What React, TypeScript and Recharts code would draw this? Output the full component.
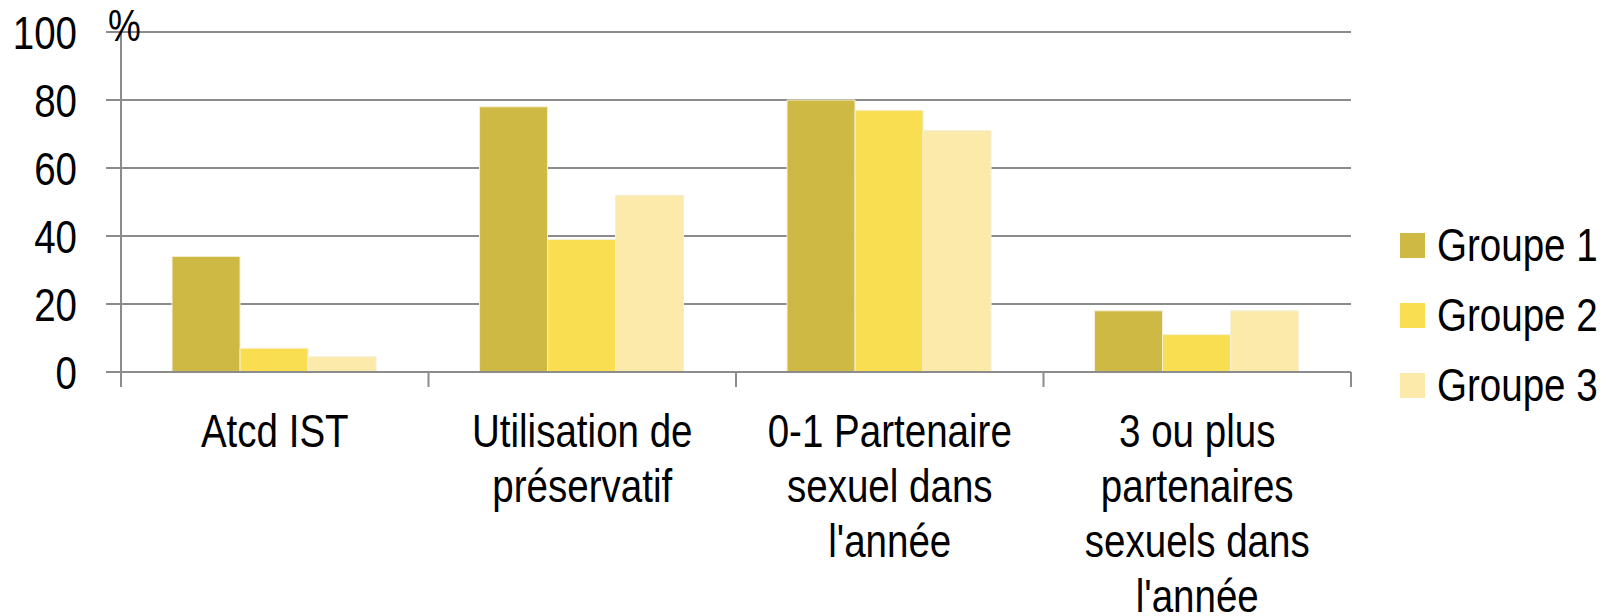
import { BarChart, Bar, XAxis, YAxis, CartesianGrid } from 'recharts';

const categories = [
  'Atcd IST',
  'Utilisation de\npréservatif',
  "0-1 Partenaire\nsexuel dans\nl'année",
  "3 ou plus\npartenaires\nsexuels dans\nl'année",
];
const groupe1 = [34, 78, 80, 18];
const groupe2 = [7, 39, 77, 11];
const groupe3 = [4.5, 52, 71, 18];
const seriesNames = ['Groupe 1', 'Groupe 2', 'Groupe 3'];
const yTicks = [0, 20, 40, 60, 80, 100];

const COLORS = ['#CFB945', '#F9DE52', '#FCEAAB'];
const GRID = '#8C8C8C';
const FONT = "'Liberation Sans', Arial, sans-serif";
const NARROW = 0.82; // the reference uses a condensed face
const W = 1607;
const H = 616;
const Y_AXIS_W = 121;
const RIGHT = 256;
const PLOT_W = W - Y_AXIS_W - RIGHT;

const chartData = categories.map((name, i) => ({
  name,
  [seriesNames[0]]: groupe1[i],
  [seriesNames[1]]: groupe2[i],
  [seriesNames[2]]: groupe3[i],
}));

function CategoryTick(props: any) {
  const { x, y, payload, index } = props;
  const band = PLOT_W / categories.length;
  const lines = String(payload.value).split('\n');
  return (
    <g>
      <line x1={x - band / 2} x2={x - band / 2} y1={y} y2={y + 15} stroke={GRID} strokeWidth={2} />
      {index === categories.length - 1 && (
        <line x1={x + band / 2} x2={x + band / 2} y1={y} y2={y + 15} stroke={GRID} strokeWidth={2} />
      )}
      <g transform={`translate(${x},${y + 75}) scale(${NARROW},1)`}>
        <text x={0} y={0} textAnchor="middle" fill="#000" fontSize={47} fontFamily={FONT}>
          {lines.map((l, i) => (
            <tspan key={i} x={0} dy={i === 0 ? 0 : 55}>
              {l}
            </tspan>
          ))}
        </text>
      </g>
    </g>
  );
}

function ValueTick(props: any) {
  const { x, y, payload } = props;
  return (
    <g transform={`translate(${x},${y}) scale(${NARROW},1)`}>
      <text x={0} y={0} dy="0.355em" textAnchor="end" fill="#000" fontSize={47} fontFamily={FONT}>
        {payload.value}
      </text>
    </g>
  );
}

function PercentLabel(props: any) {
  const vb = props.viewBox || { x: 0, y: 32, width: Y_AXIS_W };
  return (
    <g transform={`translate(${vb.x + vb.width - 13},${vb.y + 9}) scale(${NARROW},1)`}>
      <text x={0} y={0} fontSize={45} fontFamily={FONT} fill="#000">
        %
      </text>
    </g>
  );
}

function LegendBox() {
  return (
    <div style={{ position: 'absolute', left: 1400, top: 210, fontFamily: FONT, fontSize: 47, color: '#000' }}>
      {seriesNames.map((n, i) => (
        <div key={n} style={{ display: 'flex', alignItems: 'center', height: 70 }}>
          <div style={{ width: 25, height: 25, background: COLORS[i], flex: '0 0 25px', marginRight: 12 }} />
          <div
            style={{
              lineHeight: '70px',
              whiteSpace: 'nowrap',
              transform: `scaleX(${NARROW})`,
              transformOrigin: 'left center',
            }}
          >
            {n}
          </div>
        </div>
      ))}
    </div>
  );
}

export default function App() {
  return (
    <div style={{ position: 'absolute', left: 0, top: 0, width: W, height: H, background: '#fff' }}>
      <BarChart
        width={W}
        height={H}
        data={chartData}
        margin={{ top: 32, right: RIGHT, left: 0, bottom: 0 }}
        barCategoryGap="16.6%"
        barGap={0}
      >
        <CartesianGrid vertical={false} stroke={GRID} strokeWidth={2} />
        <XAxis
          dataKey="name"
          height={244}
          interval={0}
          tickSize={0}
          tickMargin={0}
          tickLine={false}
          axisLine={{ stroke: GRID, strokeWidth: 2 }}
          tick={<CategoryTick />}
        />
        <YAxis
          width={Y_AXIS_W}
          domain={[0, 100]}
          ticks={yTicks}
          interval={0}
          tickSize={15}
          tickMargin={29}
          axisLine={{ stroke: GRID, strokeWidth: 2 }}
          tickLine={{ stroke: GRID, strokeWidth: 2 }}
          tick={<ValueTick />}
          label={<PercentLabel />}
        />
        {seriesNames.map((n, i) => (
          <Bar key={n} dataKey={n} fill={COLORS[i]} stroke="#F4EFD8" strokeWidth={1} isAnimationActive={false} />
        ))}
      </BarChart>
      <LegendBox />
    </div>
  );
}
